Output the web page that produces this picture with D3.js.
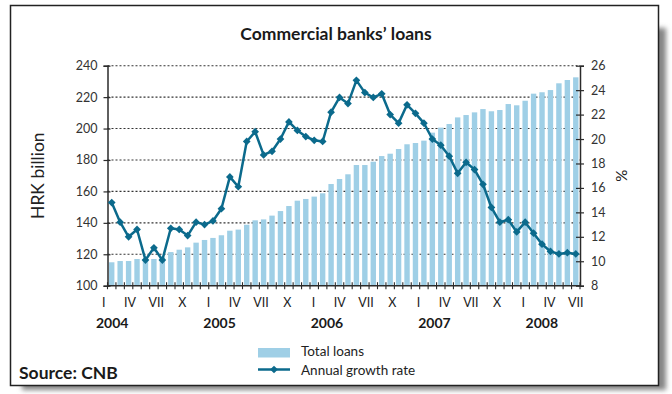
<!DOCTYPE html>
<html>
<head>
<meta charset="utf-8">
<script src="https://cdn.jsdelivr.net/npm/d3@7"></script>
<style>
  html, body { margin: 0; padding: 0; background: #fff; }
  svg { display: block; font-family: Lato, "Open Sans", sans-serif; }
</style>
</head>
<body>
<svg id="chart" width="672" height="394"></svg>
<script>
// Months shown: Dec 2003 – Jul 2008
const months = d3.range(56).map(i => {
  const d = new Date(2003, 11 + i, 1);
  return d3.timeFormat("%Y-%m")(d);
});

// Total loans, HRK billion
const totalLoans = [
  114.9, 115.7, 115.7, 117.0, 117.0, 117.0, 118.0, 121.4, 122.9, 124.4,
  127.4, 129.1, 130.4, 132.1, 135.0, 135.7, 138.8, 141.6, 142.2, 144.6,
  147.5, 150.7, 154.1, 155.2, 156.7, 158.8, 164.7, 167.9, 170.9, 176.8,
  176.8, 178.9, 182.5, 184.0, 187.0, 190.0, 190.8, 192.3, 197.4, 200.6,
  202.9, 207.1, 208.6, 210.3, 212.4, 211.0, 211.8, 215.6, 214.8, 217.7,
  222.2, 223.1, 224.5, 228.8, 230.9, 232.6
];

// Annual growth rate, %
const growthRate = [
  14.8, 13.2, 12.0, 12.6, 10.1, 11.1, 10.1, 12.7, 12.6, 12.1,
  13.2, 13.0, 13.3, 14.3, 16.9, 16.1, 19.8, 20.6, 18.7, 19.0,
  20.0, 21.4, 20.7, 20.2, 19.9, 19.8, 22.2, 23.4, 22.9, 24.8,
  23.8, 23.4, 23.7, 22.0, 21.3, 22.8, 22.1, 21.3, 20.0, 19.5,
  18.6, 17.2, 18.1, 17.5, 16.3, 14.4, 13.2, 13.4, 12.4, 13.2,
  12.3, 11.4, 10.8, 10.6, 10.7, 10.6
];

const quarterLabels = ["I","IV","VII","X","I","IV","VII","X","I","IV","VII","X",
                       "I","IV","VII","X","I","IV","VII"];
const yearLabels = ["2004","2005","2006","2007","2008"];
const leftTicks = [100, 120, 140, 160, 180, 200, 220, 240];
const rightTicks = [8, 10, 12, 14, 16, 18, 20, 22, 24, 26];

const svg = d3.select("#chart");
const plot = { left: 107.5, right: 580, top: 65.7, bottom: 285.7 };

const barColor = "#9fcfe6";
const lineColor = "#0b6a8c";
const axisColor = "#2b2b2b";

// Frame with drop shadow
const defs = svg.append("defs");
const blur = defs.append("filter").attr("id", "shadow")
  .attr("x", "-5%").attr("y", "-5%").attr("width", "110%").attr("height", "110%");
blur.append("feGaussianBlur").attr("stdDeviation", 2.5);

svg.append("rect")
  .attr("x", 22).attr("y", 28).attr("width", 644).attr("height", 362)
  .attr("fill", "#858585").attr("filter", "url(#shadow)");
svg.append("rect")
  .attr("x", 10.5).attr("y", 5.5).attr("width", 648).attr("height", 380)
  .attr("fill", "#fff").attr("stroke", "#222").attr("stroke-width", 1.5);

// Scales
const x = d3.scaleBand().domain(months)
  .range([plot.left, plot.right]).paddingInner(0.36).paddingOuter(0.18);
const yL = d3.scaleLinear().domain([100, 240]).range([plot.bottom, plot.top]);
const yR = d3.scaleLinear().domain([8, 26]).range([plot.bottom, plot.top]);
const cx = m => x(m) + x.bandwidth() / 2;

// Title
svg.append("text")
  .attr("x", 336).attr("y", 39.5)
  .attr("text-anchor", "middle")
  .attr("font-size", 17.5).attr("font-weight", "bold").attr("fill", "#1a1a1a")
  .text("Commercial banks\u2019 loans");

// Dotted gridlines
svg.append("g").selectAll("line")
  .data(leftTicks.filter(t => t > 100))
  .join("line")
  .attr("x1", plot.left).attr("x2", plot.right)
  .attr("y1", d => yL(d)).attr("y2", d => yL(d))
  .attr("stroke", "#333").attr("stroke-width", 1.1)
  .attr("stroke-dasharray", "2,2");

// Bars
svg.append("g").selectAll("rect")
  .data(months)
  .join("rect")
  .attr("x", d => x(d))
  .attr("width", x.bandwidth())
  .attr("y", (d, i) => yL(totalLoans[i]))
  .attr("height", (d, i) => yL(100) - yL(totalLoans[i]))
  .attr("fill", barColor);

// Left axis
const gL = svg.append("g")
  .attr("transform", `translate(${plot.left},0)`)
  .call(d3.axisLeft(yL).tickValues(leftTicks).tickSize(4).tickPadding(6));
gL.select(".domain").attr("stroke", axisColor).attr("stroke-width", 1.5);
gL.selectAll(".tick line").attr("x1", 3).attr("stroke", axisColor).attr("stroke-width", 1.2);
gL.selectAll(".tick text").attr("font-size", 12.5).attr("fill", "#333")
  .attr("font-family", "Lato, sans-serif");

// Right axis
const gR = svg.append("g")
  .attr("transform", `translate(${plot.right},0)`)
  .call(d3.axisRight(yR).tickValues(rightTicks).tickSize(4).tickPadding(7));
gR.select(".domain").attr("stroke", axisColor).attr("stroke-width", 1.5);
gR.selectAll(".tick line").attr("x1", -4).attr("stroke", axisColor).attr("stroke-width", 1.2);
gR.selectAll(".tick text").attr("font-size", 12.5).attr("fill", "#333")
  .attr("font-family", "Lato, sans-serif");

// Bottom axis: ticks at month boundaries
const edge = (x.step() - x.bandwidth()) / 2;
const bounds = months.map(m => x(m) - edge).concat([plot.right]);
svg.append("line")
  .attr("x1", plot.left).attr("x2", plot.right)
  .attr("y1", plot.bottom).attr("y2", plot.bottom)
  .attr("stroke", axisColor).attr("stroke-width", 1.5);
svg.append("g").selectAll("line")
  .data(bounds)
  .join("line")
  .attr("x1", d => d).attr("x2", d => d)
  .attr("y1", plot.bottom - 3.5).attr("y2", plot.bottom + 3.5)
  .attr("stroke", axisColor).attr("stroke-width", 1.1);

// Quarter labels
const qx = d3.scalePoint().domain(d3.range(quarterLabels.length))
  .range([cx(months[0]) - 8, cx(months[months.length - 1])]);
svg.append("g").selectAll("text")
  .data(quarterLabels)
  .join("text")
  .attr("x", (d, i) => qx(i)).attr("y", 307)
  .attr("text-anchor", "middle")
  .attr("font-size", 12.5).attr("fill", "#222")
  .text(d => d);

// Year labels
const yx = d3.scalePoint().domain(yearLabels)
  .range([cx(months[0]) + 0.5, cx(months[months.length - 1]) - 34]);
svg.append("g").selectAll("text")
  .data(yearLabels)
  .join("text")
  .attr("x", d => yx(d)).attr("y", 328)
  .attr("text-anchor", "middle")
  .attr("font-size", 14).attr("font-weight", "bold").attr("fill", "#1a1a1a")
  .text(d => d);

// Growth-rate line
const line = d3.line()
  .x((d, i) => cx(months[i]))
  .y(d => yR(d));
svg.append("path")
  .datum(growthRate)
  .attr("d", line)
  .attr("fill", "none")
  .attr("stroke", lineColor).attr("stroke-width", 2.5)
  .attr("stroke-linejoin", "round");

const diamond = d3.symbol().type(d3.symbolSquare).size(30);
svg.append("g").selectAll("path")
  .data(growthRate)
  .join("path")
  .attr("d", diamond)
  .attr("transform", (d, i) => `translate(${cx(months[i])},${yR(d)}) rotate(45)`)
  .attr("fill", lineColor);

// Axis titles
svg.append("text")
  .attr("transform", `translate(44,${(plot.top + plot.bottom) / 2}) rotate(-90)`)
  .attr("text-anchor", "middle")
  .attr("font-size", 17.5).attr("fill", "#222")
  .text("HRK billion");
svg.append("text")
  .attr("transform", `translate(616,${(plot.top + plot.bottom) / 2}) rotate(90)`)
  .attr("text-anchor", "middle")
  .attr("font-size", 15).attr("fill", "#222")
  .text("%");

// Legend
const lg = svg.append("g").attr("transform", "translate(258,0)");
lg.append("rect")
  .attr("x", 0).attr("y", 348).attr("width", 32).attr("height", 9.5)
  .attr("fill", barColor);
lg.append("text")
  .attr("x", 43).attr("y", 356)
  .attr("font-size", 13.5).attr("fill", "#222")
  .text("Total loans");
lg.append("line")
  .attr("x1", 0).attr("x2", 32).attr("y1", 369.5).attr("y2", 369.5)
  .attr("stroke", lineColor).attr("stroke-width", 2.5);
lg.append("path")
  .attr("d", diamond)
  .attr("transform", "translate(16,369.5) rotate(45)")
  .attr("fill", lineColor);
lg.append("text")
  .attr("x", 43).attr("y", 374.5)
  .attr("font-size", 13.5).attr("fill", "#222")
  .text("Annual growth rate");

// Source note
svg.append("text")
  .attr("x", 19).attr("y", 379)
  .attr("font-size", 17.5).attr("font-weight", "bold").attr("fill", "#1a1a1a")
  .text("Source: CNB");
</script>
</body>
</html>
